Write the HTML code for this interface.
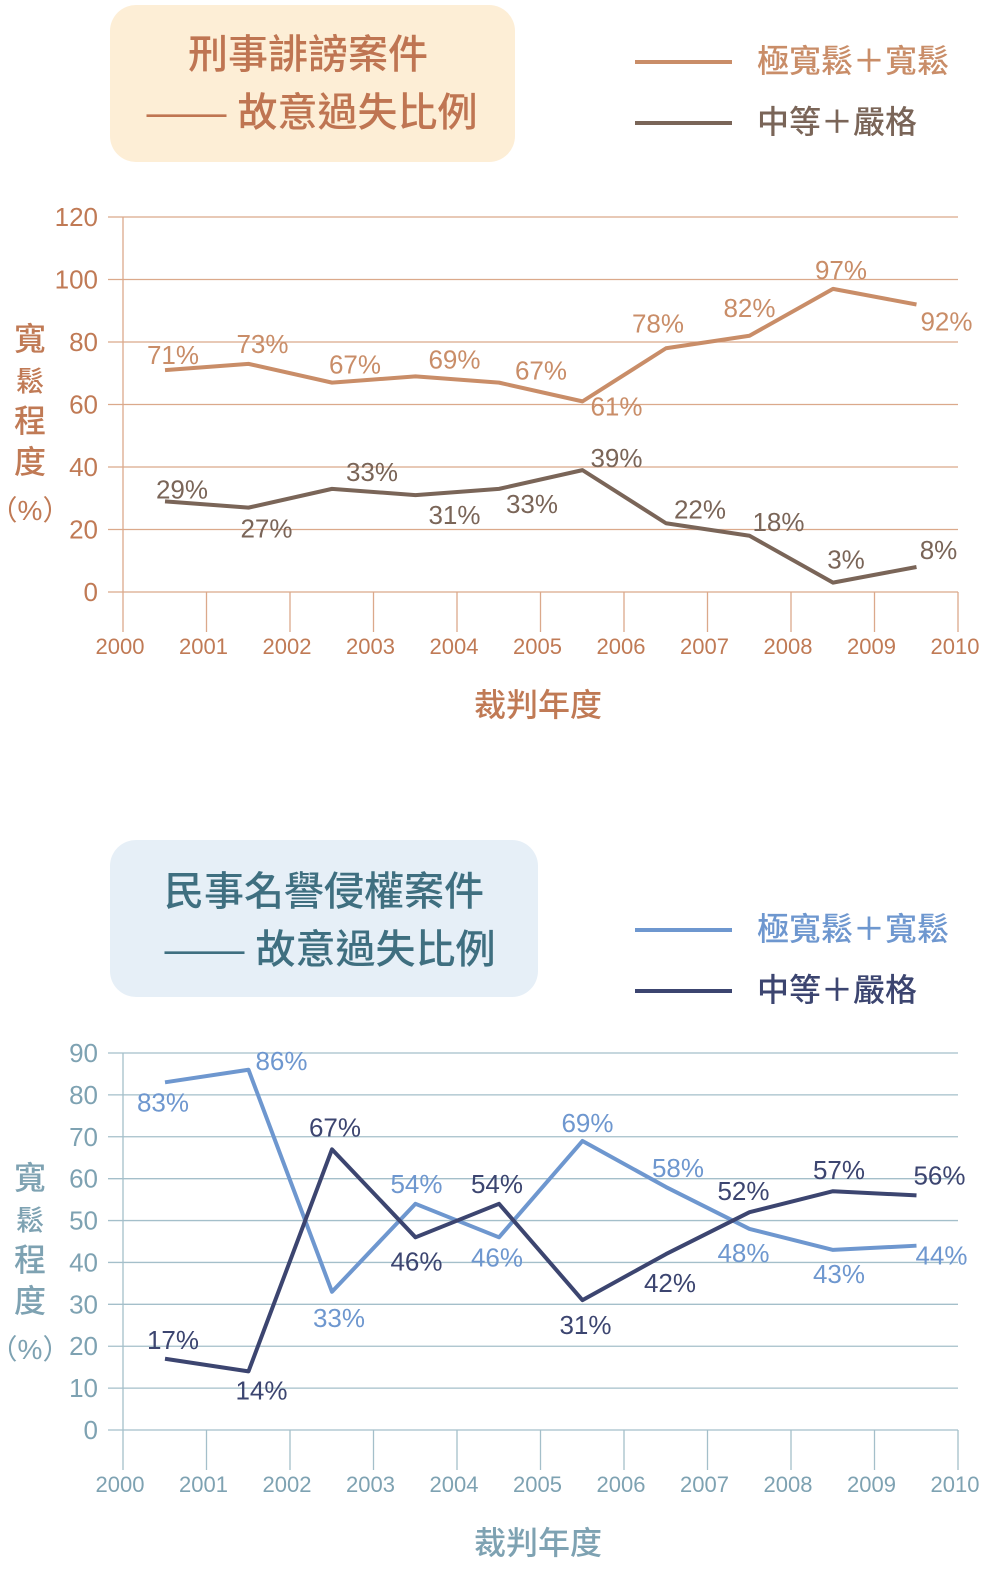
<!DOCTYPE html>
<html><head><meta charset="utf-8">
<style>
html,body{margin:0;padding:0;background:#fff;}
svg{display:block;font-family:"Liberation Sans","Noto Sans CJK TC",sans-serif;}
</style></head>
<body>
<svg id="s" width="990" height="1583" viewBox="0 0 990 1583">
  <rect x="110" y="5" width="405" height="157" rx="26" fill="#fdeed6"/>
  <text x="308" y="68" text-anchor="middle" font-size="40" font-weight="500" fill="#bf7552">刑事誹謗案件</text>
  <text x="312" y="126" text-anchor="middle" font-size="40" font-weight="500" fill="#bf7552">—— 故意過失比例</text>
  <line x1="635" y1="62" x2="732" y2="62" stroke="#c98d68" stroke-width="4"/>
  <text x="757" y="72" font-size="32" font-weight="500" fill="#c98d68">極寬鬆＋寬鬆</text>
  <line x1="635" y1="123" x2="732" y2="123" stroke="#7a6558" stroke-width="4"/>
  <text x="757" y="133" font-size="32" font-weight="500" fill="#7a6558">中等＋嚴格</text>

  <rect x="110" y="840" width="428" height="157" rx="26" fill="#e6eff7"/>
  <text x="324" y="905" text-anchor="middle" font-size="40" font-weight="500" fill="#3f6f80">民事名譽侵權案件</text>
  <text x="330" y="963" text-anchor="middle" font-size="40" font-weight="500" fill="#3f6f80">—— 故意過失比例</text>
  <line x1="635" y1="930" x2="732" y2="930" stroke="#6e97cf" stroke-width="4"/>
  <text x="757" y="940" font-size="32" font-weight="500" fill="#6e97cf">極寬鬆＋寬鬆</text>
  <line x1="635" y1="991" x2="732" y2="991" stroke="#3c4570" stroke-width="4"/>
  <text x="757" y="1001" font-size="32" font-weight="500" fill="#3c4570">中等＋嚴格</text>
  <g id="g1"></g>
  <g id="g2"></g>
</svg>
<script>
const years = [2000,2001,2002,2003,2004,2005,2006,2007,2008,2009,2010];
const topTicks = [0,20,40,60,80,100,120];
const topLoose = [71,73,67,69,67,61,78,82,97,92];
const topStrict = [29,27,33,31,33,39,22,18,3,8];
const botTicks = [0,10,20,30,40,50,60,70,80,90];
const botLoose = [83,86,33,54,46,69,58,48,43,44];
const botStrict = [17,14,67,46,54,31,42,52,57,56];

const NS="http://www.w3.org/2000/svg";
function mk(parent,tag,attrs,text){const e=document.createElementNS(NS,tag);for(const k in attrs)e.setAttribute(k,attrs[k]);if(text!==undefined)e.textContent=text;parent.appendChild(e);return e;}

function draw(g,cfg){
  const xOf=y=>123+83.5*(y-2000);
  const yOf=v=>cfg.y0-(v-cfg.vmin)/(cfg.vmax-cfg.vmin)*(cfg.y0-cfg.y1);
  cfg.ticks.forEach(t=>{
    const ln=mk(g,'line',{x1:108,x2:958,y1:yOf(t),y2:yOf(t),stroke:cfg.grid,'stroke-width':1.3});
    
    
    const tx=mk(g,'text',{x:98,y:yOf(t)+9,'text-anchor':'end','font-size':26,fill:cfg.axisText},t);
    
    
  });
  const ax=mk(g,'line',{x1:123,x2:123,y1:cfg.y1,y2:cfg.y0+40,stroke:cfg.grid,'stroke-width':1.3});
  
  
  years.forEach((yr,i)=>{
    if(i>0){const tk=mk(g,'line',{x1:xOf(yr),x2:xOf(yr),y1:cfg.y0,y2:cfg.y0+40,stroke:cfg.grid,'stroke-width':1.3});
      
      }
    const t=mk(g,'text',{x:xOf(yr)-3,y:cfg.y0+62,'text-anchor':'middle','font-size':22,fill:cfg.axisText},yr);
    
    
  });
  const xt=mk(g,'text',{x:538,y:cfg.y0+124,'text-anchor':'middle','font-size':32,'font-weight':500,fill:cfg.axisText},'裁判年度');
  
  
  const chars=['寬','鬆','程','度'];
  chars.forEach((c,i)=>{
    const t=mk(g,'text',{x:30,y:cfg.yt+i*41,'text-anchor':'middle','font-size':i==1?28:32,'font-weight':500,fill:cfg.axisText},c);
    
    
  });
  const p=mk(g,'text',{x:30,y:cfg.yt+4*41+6,'text-anchor':'middle','font-size':28,fill:cfg.axisText},'（%）');
  
  
  cfg.series.forEach(s=>{
    const pts=s.vals.map((v,i)=>(165+83.5*i)+','+yOf(v)).join(' ');
    const pl=mk(g,'polyline',{points:pts,fill:'none',stroke:s.color,'stroke-width':4,'stroke-linejoin':'round'});
    
    
    s.vals.forEach((v,i)=>{
      const o=s.off[i];
      const t=mk(g,'text',{x:165+83.5*i+o[0],y:yOf(v)+o[1]+9,'text-anchor':'middle','font-size':26,fill:s.color},v+'%');
      
      
    });
  });
}
draw(document.getElementById('g1'),{y0:592,y1:217,vmin:0,vmax:120,ticks:topTicks,grid:'#dba98b',axisText:'#c07a55',yt:350,
  series:[
    {name:'top-loose',vals:topLoose,color:'#c98d68',off:[[8,-15],[14,-20],[23,-18],[39,-17],[42,-12],[34,5],[-8,-25],[0,-28],[8,-19],[30,17]]},
    {name:'top-strict',vals:topStrict,color:'#7a6558',off:[[17,-12],[18,21],[40,-17],[39,20],[33,15],[34,-12],[34,-14],[29,-14],[13,-23],[22,-17]]}
  ]});
draw(document.getElementById('g2'),{y0:1430,y1:1053,vmin:0,vmax:90,ticks:botTicks,grid:'#a4bfca',axisText:'#7ea2b2',yt:1189,
  series:[
    {name:'bottom-loose',vals:botLoose,color:'#6e97cf',off:[[-2,20],[33,-9],[7,26],[1,-20],[-2,20],[5,-18],[12,-19],[-6,24],[6,24],[25,10]]},
    {name:'bottom-strict',vals:botStrict,color:'#3c4570',off:[[8,-19],[13,19],[3,-22],[1,24],[-2,-20],[3,25],[4,29],[-6,-21],[6,-21],[23,-20]]}
  ]});
</script>
</body></html>
